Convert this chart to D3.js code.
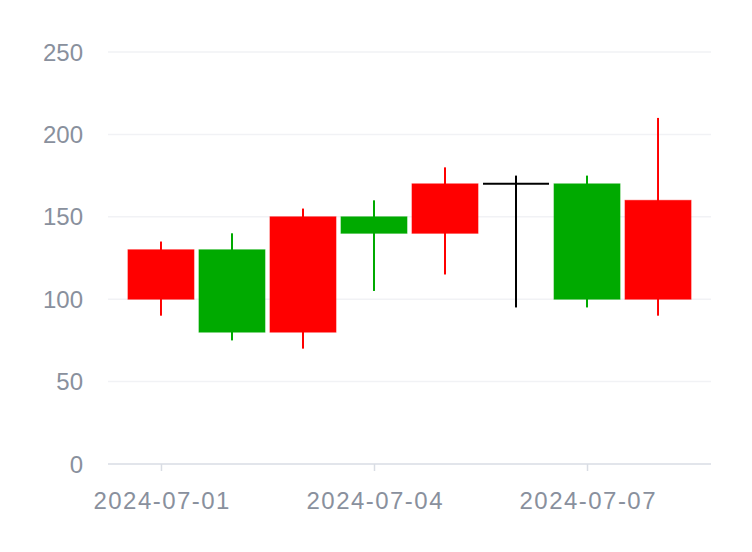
<!DOCTYPE html>
<html><head><meta charset="utf-8">
<script src="https://cdn.jsdelivr.net/npm/d3@7/dist/d3.min.js"></script>
<style>body{margin:0;background:#fff}svg{display:block}</style>
</head><body><div id="chart"></div>
<script>
const dates = ["2024-07-01","2024-07-02","2024-07-03","2024-07-04","2024-07-05","2024-07-06","2024-07-07","2024-07-08"];
const open  = [100,130, 80,150,140,170,170,100];
const close = [130, 80,150,140,170,170,100,160];
const high  = [135,140,155,160,180,175,175,210];
const low   = [ 90, 75, 70,105,115, 95, 95, 90];
const yTicks = [0,50,100,150,200,250];
const xTickLabels = ["2024-07-01","2024-07-04","2024-07-07"];

const W=752,H=552;
const svg=d3.select("#chart").append("svg").attr("width",W).attr("height",H);
const x=d3.scalePoint().domain(dates).range([108,711]).padding(0.746);
const y=d3.scaleLinear().domain([0,250]).range([464,52]);
const font="'Liberation Sans', Arial, sans-serif";
const textColor="#89909d";

// grid
svg.append("g").selectAll("line").data(yTicks.filter(d=>d>0)).join("line")
  .attr("x1",108).attr("x2",711).attr("y1",d=>y(d)).attr("y2",d=>y(d))
  .attr("stroke","#f1f2f5").attr("stroke-width",1.5);

// y axis
const ya=svg.append("g").attr("transform","translate(83,0)")
  .call(d3.axisLeft(y).tickValues(yTicks).tickSize(0).tickPadding(0));
ya.select(".domain").remove();
ya.selectAll("text").attr("font-family",font).attr("font-size",24).attr("fill",textColor).attr("dy","0.34em");

// x axis
const xa=svg.append("g").attr("transform","translate(0,464)")
  .call(d3.axisBottom(x).tickValues(xTickLabels).tickSize(7).tickPadding(21));
xa.select(".domain").attr("d","M108,0H711").attr("stroke","#d9dde4").attr("stroke-width",1.5);
xa.selectAll(".tick line").attr("stroke","#d9dde4").attr("stroke-width",1.5);
xa.selectAll("text").attr("font-family",font).attr("font-size",24).attr("fill",textColor)
  .attr("textLength",136).attr("lengthAdjust","spacing");

const data=dates.map((d,i)=>({d,o:open[i],c:close[i],h:high[i],l:low[i]}));
const col=v=>v.c>v.o?"#ff0000":(v.c<v.o?"#00aa00":"#000000");
const bw=66;
const g=svg.append("g");
g.selectAll("line.wick").data(data).join("line").attr("class","wick")
  .attr("x1",v=>x(v.d)).attr("x2",v=>x(v.d)).attr("y1",v=>y(v.h)).attr("y2",v=>y(v.l))
  .attr("stroke",col).attr("stroke-width",2);
g.selectAll("rect").data(data.filter(v=>v.o!==v.c)).join("rect")
  .attr("x",v=>x(v.d)-bw/2).attr("width",bw)
  .attr("y",v=>y(Math.max(v.o,v.c))).attr("height",v=>Math.abs(y(v.o)-y(v.c)))
  .attr("fill",col).attr("stroke",col).attr("stroke-width",1).attr("stroke-opacity",0.6);
g.selectAll("line.doji").data(data.filter(v=>v.o===v.c)).join("line").attr("class","doji")
  .attr("x1",v=>x(v.d)-bw/2).attr("x2",v=>x(v.d)+bw/2).attr("y1",v=>y(v.o)).attr("y2",v=>y(v.o))
  .attr("stroke","#000000").attr("stroke-width",2);
</script></body></html>
